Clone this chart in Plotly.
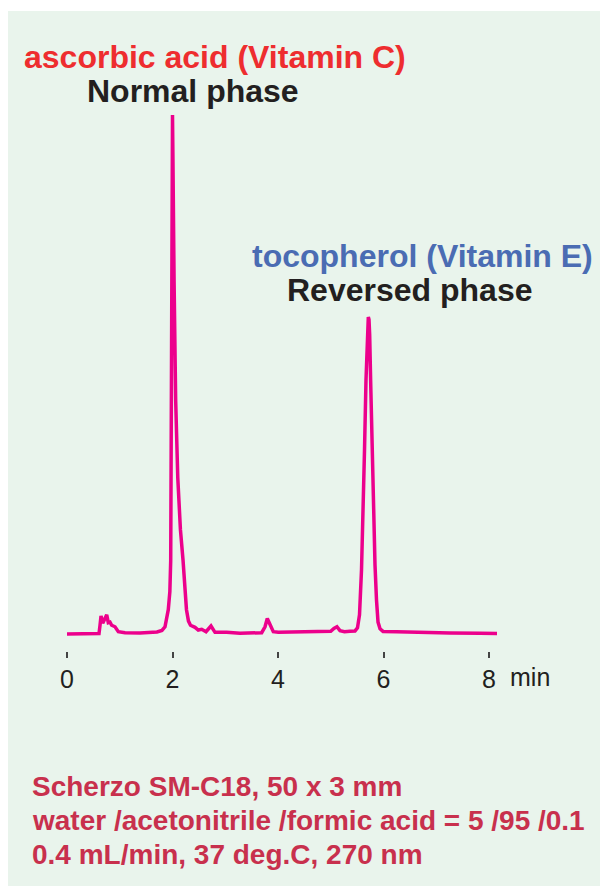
import plotly.graph_objects as go

# retention time (min) and detector signal (relative, main peak = 100)
time_min = [
    0.00, 0.30, 0.60, 0.607, 0.626, 0.645, 0.677, 0.711, 0.753, 0.783, 0.815, 0.847,
    0.910, 0.973, 1.100, 1.384, 1.573, 1.706, 1.800, 1.858, 1.920, 1.950, 1.966, 1.974,
    1.981, 1.991, 2.000, 2.008, 2.030, 2.060, 2.100, 2.150, 2.200, 2.235, 2.265, 2.303,
    2.341, 2.427, 2.489, 2.554, 2.635, 2.730, 2.806, 3.027, 3.280, 3.691, 3.754, 3.797,
    3.848, 3.911, 4.006, 4.400, 4.800, 5.000, 5.060, 5.117, 5.175, 5.260, 5.365, 5.460,
    5.507, 5.545, 5.583, 5.611, 5.640, 5.668, 5.688, 5.700, 5.712, 5.725, 5.738, 5.756,
    5.782, 5.811, 5.839, 5.867, 5.896, 5.934, 5.991, 6.250, 6.692, 7.261, 7.829, 8.152,
]
signal = [
    -0.2, -0.2, -0.2, -0.1, 1.5, 3.3, 1.9, 2.8, 3.5, 2.0, 2.1, 1.5,
    1.2, 0.25, 0.06, 0.0, 0.05, 0.2, 0.5, 1.2, 4.5, 8.0, 14.0, 30.0,
    53.0, 82.0, 100.0, 92.0, 68.0, 45.0, 30.0, 20.0, 14.0, 8.0, 4.5, 2.3,
    1.5, 1.1, 0.58, 0.71, 0.25, 1.35, 0.13, 0.13, -0.06, 0.06, 1.2, 2.8,
    1.5, 0.25, 0.13, 0.15, 0.2, 0.35, 0.9, 1.2, 0.45, 0.25, 0.35, 0.4,
    1.0, 3.5, 12.2, 21.8, 35.3, 48.8, 57.5, 60.5, 61.0, 60.5, 57.5, 48.8,
    35.3, 21.8, 13.1, 6.4, 2.1, 0.8, 0.3, 0.25, 0.1, 0.0, -0.05, -0.1,
]

x_ticks = [0, 2, 4, 6, 8]

conditions = [
    "Scherzo SM-C18, 50 x 3 mm",
    "water /acetonitrile /formic acid = 5 /95 /0.1",
    "0.4 mL/min, 37 deg.C, 270 nm",
]

fig = go.Figure(go.Scatter(
    x=time_min, y=signal, mode="lines",
    line=dict(color="#EC008C", width=3.5),
    hoverinfo="skip",
))

# green panel behind everything
fig.add_shape(type="rect", xref="paper", yref="paper",
              x0=-0.063, x1=1.06, y0=-0.45, y1=1.1615,
              fillcolor="#E9F4EC", line_width=0, layer="below")

title_font = "Liberation Sans, Arial, sans-serif"
labels = [
    ("ascorbic acid (Vitamin C)", -0.0333, 1.078, "#EE2D2F"),
    ("Normal phase", 0.0833, 1.0163, "#231F20"),
    ("tocopherol (Vitamin E)", 0.3889, 0.7169, "#4A6CB3"),
    ("Reversed phase", 0.4537, 0.6552, "#231F20"),
]
for txt, x, y, col in labels:
    fig.add_annotation(text=f"<b>{txt}</b>", xref="paper", yref="paper",
                       x=x, y=y, xanchor="left", yanchor="middle",
                       showarrow=False,
                       font=dict(family=title_font, size=32, color=col))

for i, line in enumerate(conditions):
    fig.add_annotation(text=f"<b>{line}</b>", xref="paper", yref="paper",
                       x=-0.0185, y=-0.2468 - 0.0617 * i,
                       xanchor="left", yanchor="middle", showarrow=False,
                       font=dict(family="Liberation Sans Narrow, Arial Narrow, sans-serif",
                                 size=28, color="#C8304D"))

fig.add_annotation(text="min", xref="x", yref="paper", x=8.36, y=-0.0472,
                   xanchor="left", yanchor="middle", showarrow=False,
                   font=dict(family=title_font, size=25, color="#231F20"))

# page body adds an 8 px offset, so the figure is drawn 8 px smaller
fig.update_layout(
    width=600, height=878,
    margin=dict(l=32, r=28, t=92, b=235),
    paper_bgcolor="white",
    plot_bgcolor="rgba(0,0,0,0)",
    showlegend=False,
    xaxis=dict(
        range=[-0.5118, 9.725], tickvals=x_ticks,
        ticks="outside", ticklen=6, tickwidth=1.5, tickcolor="#444",
        showline=False, showgrid=False, zeroline=False,
        tickfont=dict(family=title_font, size=25, color="#231F20"),
    ),
    yaxis=dict(range=[-3.475, 102.9], visible=False),
)

fig.write_html("out.html")
